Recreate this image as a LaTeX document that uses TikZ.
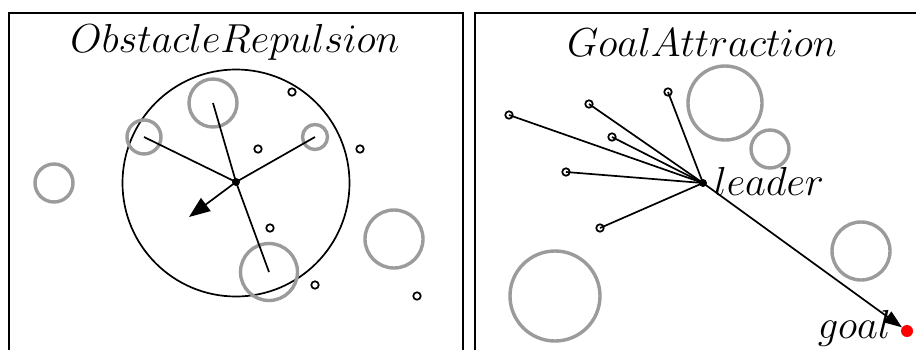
\documentclass[tikz,border=0pt]{standalone}
\usepackage{fix-cm}
\usetikzlibrary{arrows.meta}
\definecolor{obsgray}{RGB}{155,155,155}
\tikzset{
  frame/.style={line width=1.8pt},
  obst/.style={circle,draw=obsgray,line width=3.4pt,inner sep=0pt,minimum size=#1},
  robot/.style={circle,draw,line width=1.7pt,inner sep=0pt,minimum size=7.5pt,fill=white},
  link/.style={line width=1.7pt},
  lbl/.style={inner sep=0pt,font=\fontsize{40.5}{48}\selectfont},
}
\begin{document}
\begin{tikzpicture}[x=1pt,y=-1pt]
\clip (0,0) rectangle (916,349);
\fill[white] (0,0) rectangle (916,349);
% frames
\draw[frame] (9,360) -- (9,13) -- (463,13) -- (463,360);
\draw[frame] (475,360) -- (475,13) -- (930,13);
% ===== left panel =====
\node[lbl] (t1) at (235,42) {$ObstacleRepulsion$};
\node[circle,draw,line width=1.7pt,minimum size=227pt,inner sep=0pt] (range) at (236,183) {};
\node[obst=48pt] (o1) at (213,103) {};
\node[obst=34pt] (o2) at (144,137) {};
\node[obst=25pt] (o3) at (315,137) {};
\node[obst=38pt] (o4) at (54,183) {};
\node[obst=57pt] (o5) at (269,272) {};
\node[obst=58pt] (o6) at (394,239) {};
\foreach \n/\x/\y in {r1/292/92, r2/258/149, r3/360/149, r4/270/228, r5/315/285, r6/417/296}
  \node[robot] (\n) at (\x,\y) {};
\node[circle,fill,inner sep=0pt,minimum size=8pt] (L1) at (236,182) {};
\draw[link] (L1.center) -- (o1.center);
\draw[link] (L1.center) -- (o2.center);
\draw[link] (L1.center) -- (o3.center);
\draw[link] (L1.center) -- (o5.center);
\coordinate (rep) at (189,217);
\draw[link,-{Triangle[length=21pt,width=16pt]}] (L1.center) -- (rep);
% ===== right panel =====
\node[lbl] (t2) at (702,42) {$GoalAttraction$};
\node[obst=74pt] (p1) at (725,103) {};
\node[obst=38pt] (p2) at (770,149) {};
\node[obst=58pt] (p3) at (861,251) {};
\node[obst=90pt] (p4) at (555,296) {};
\node[circle,fill,inner sep=0pt,minimum size=8pt] (L2) at (703,183) {};
\foreach \n/\x/\y in {f1/509/115, f2/589/104, f3/668/92, f4/612/137, f5/566/172, f6/600/228}{
  \node[robot] (\n) at (\x,\y) {};
  \draw[link] (L2.center) -- (\n.center);
}
\node[lbl,anchor=base west] (ll) at (714,195) {$leader$};
\node[circle,fill=red,inner sep=0pt,minimum size=12pt] (goal) at (907,331) {};
\draw[link,-{Triangle[length=18pt,width=13pt]}] (L2.center) -- (goal);
\node[lbl,anchor=base east] (gl) at (891,338) {$goal$};
\end{tikzpicture}
\end{document}
